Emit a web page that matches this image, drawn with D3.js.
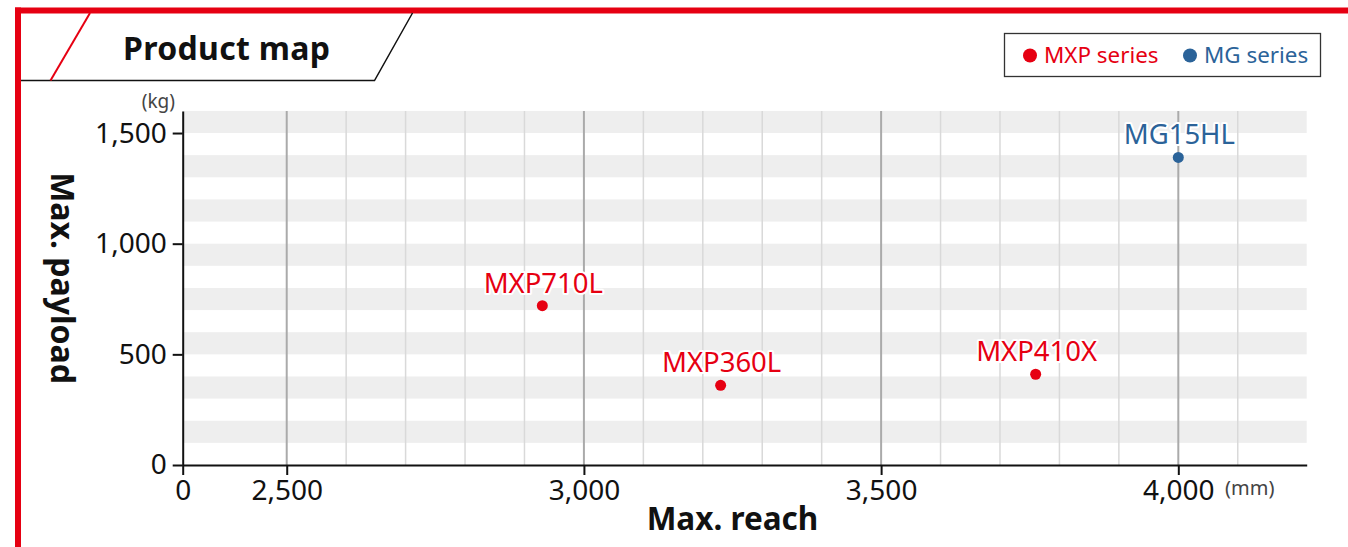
<!DOCTYPE html>
<html><head><meta charset="utf-8">
<script src="https://cdn.jsdelivr.net/npm/d3@7"></script>
<style>
html,body{margin:0;padding:0;background:#fff;overflow:hidden;}
svg{display:block;font-family:"Noto Sans",sans-serif;}
</style></head>
<body>
<svg id="c" width="1348" height="547"></svg>
<script>
// ---- data ----
const models = ["MXP710L", "MXP360L", "MXP410X", "MG15HL"];
const series = ["MXP", "MXP", "MXP", "MG"];
const reach = [2930, 3230, 3760, 4000];      // mm
const payload = [720, 360, 410, 1390];       // kg
const seriesNames = ["MXP", "MG"];
const legendLabels = ["MXP series", "MG series"];
const xTicks = [2325, 2500, 3000, 3500, 4000];
const xTickLabels = ["0", "2,500", "3,000", "3,500", "4,000"];
const xMinor = [2600, 2700, 2800, 2900, 3100, 3200, 3300, 3400, 3600, 3700, 3800, 3900, 4100];
const yTicks = [0, 500, 1000, 1500];
const yTickLabels = ["0", "500", "1,000", "1,500"];
const yBands = [100, 300, 500, 700, 900, 1100, 1300, 1500];
const yDomain = [0, 1600];
const xDomain = [2325, 4216];

const colors = {MXP: "#e60012", MG: "#2b6399"};

const svg = d3.select("#c");
const x = d3.scaleLinear().domain(xDomain).range([182.7, 1306.7]);
const y = d3.scaleLinear().domain(yDomain).range([465, 110.9]);

// ---- frame ----
svg.append("rect").attr("x", 15).attr("y", 7.5).attr("width", 1340).attr("height", 6).attr("fill", "#e60012");
svg.append("rect").attr("x", 15).attr("y", 7.5).attr("width", 6).attr("height", 545).attr("fill", "#e60012");
svg.append("path").attr("d", "M21,80.5 L374.5,80.5 L412.5,13").attr("fill", "none").attr("stroke", "#111").attr("stroke-width", 1.5);
svg.append("path").attr("d", "M50.5,80.5 L90,13").attr("fill", "none").attr("stroke", "#e60012").attr("stroke-width", 2);
svg.append("text").attr("x", 226.5).attr("y", 60).attr("text-anchor", "middle")
  .attr("font-size", 32).attr("font-weight", 700).attr("fill", "#111")
  .attr("textLength", 207).attr("lengthAdjust", "spacing").text("Product map");

// ---- legend ----
const lg = svg.append("g");
lg.append("rect").attr("x", 1004.5).attr("y", 33.5).attr("width", 316).attr("height", 43)
  .attr("fill", "#fff").attr("stroke", "#333").attr("stroke-width", 1.3);
const legX = [1030, 1190];
seriesNames.forEach((s, i) => {
  lg.append("circle").attr("cx", legX[i]).attr("cy", 55.5).attr("r", 7).attr("fill", colors[s]);
  lg.append("text").attr("x", legX[i] + 14).attr("y", 63).attr("font-size", 22.4)
    .attr("fill", colors[s]).text(legendLabels[i]);
});

// ---- bands ----
const g = svg.append("g");
g.selectAll("rect.band").data(yBands).enter().append("rect")
  .attr("x", x(xDomain[0])).attr("width", x(xDomain[1]) - x(xDomain[0]))
  .attr("y", d => y(d + 100)).attr("height", d => y(d) - y(d + 100))
  .attr("fill", "#eeeeee");

// ---- grid ----
g.selectAll("line.minor").data(xMinor).enter().append("line")
  .attr("x1", d => x(d)).attr("x2", d => x(d)).attr("y1", y(yDomain[1])).attr("y2", y(0))
  .attr("stroke", "#d9d9d9").attr("stroke-width", 1.5);
g.selectAll("line.major").data(xTicks.slice(1)).enter().append("line")
  .attr("x1", d => x(d)).attr("x2", d => x(d)).attr("y1", y(yDomain[1])).attr("y2", y(0))
  .attr("stroke", "#aaaaaa").attr("stroke-width", 2);

// ---- axes ----
const xAxis = d3.axisBottom(x).tickValues(xTicks).tickFormat((d, i) => xTickLabels[i])
  .tickSize(10).tickSizeOuter(0).tickPadding(5);
const xg = svg.append("g").attr("transform", `translate(0,${y(0)})`).call(xAxis);
xg.select(".domain").attr("stroke", "#111").attr("stroke-width", 2);
xg.selectAll(".tick line").attr("stroke", "#111").attr("stroke-width", 2);
xg.selectAll(".tick text").attr("font-size", 28).attr("fill", "#111").attr("font-family", "Noto Sans");

const yAxis = d3.axisLeft(y).tickValues(yTicks).tickFormat((d, i) => yTickLabels[i])
  .tickSize(10).tickSizeOuter(0).tickPadding(6);
const yg = svg.append("g").attr("transform", `translate(${x(xDomain[0])},0)`).call(yAxis);
yg.select(".domain").attr("stroke", "#111").attr("stroke-width", 2);
yg.selectAll(".tick line").attr("stroke", "#111").attr("stroke-width", 2);
yg.selectAll(".tick text").attr("font-size", 28).attr("fill", "#111").attr("font-family", "Noto Sans");

svg.append("text").attr("x", 175).attr("y", 108).attr("text-anchor", "end").attr("font-size", 19)
  .attr("fill", "#444").text("(kg)");
svg.append("text").attr("x", 1225).attr("y", 495).attr("font-size", 20)
  .attr("fill", "#444").text("(mm)");

svg.append("text").attr("x", 732.5).attr("y", 530).attr("text-anchor", "middle")
  .attr("font-size", 31.5).attr("font-weight", 700).attr("fill", "#111").text("Max. reach");
svg.append("text").attr("transform", "translate(51,278) rotate(90)").attr("text-anchor", "middle")
  .attr("font-size", 32).attr("font-weight", 700).attr("fill", "#111").text("Max. payload");

// ---- points ----
const pts = svg.append("g");
models.forEach((m, i) => {
  const c = colors[series[i]];
  pts.append("text").attr("x", x(reach[i]) + 1).attr("y", y(payload[i]) - 13)
    .attr("text-anchor", "middle").attr("font-size", 27.5).attr("fill", "none")
    .attr("stroke", "#fff").attr("stroke-width", 4).attr("stroke-linejoin", "round").text(m);
  pts.append("text").attr("x", x(reach[i]) + 1).attr("y", y(payload[i]) - 13)
    .attr("text-anchor", "middle").attr("font-size", 27.5).attr("fill", c).text(m);
  pts.append("circle").attr("cx", x(reach[i])).attr("cy", y(payload[i])).attr("r", 5.5).attr("fill", c);
});
</script>
</body></html>
